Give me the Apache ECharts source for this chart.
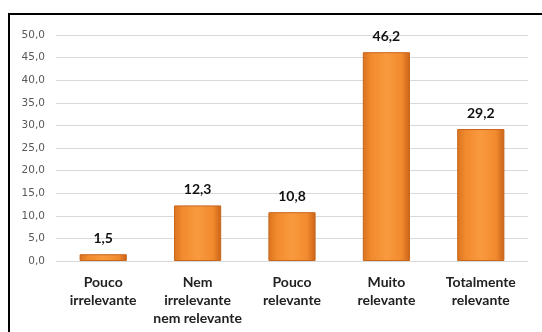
<!DOCTYPE html>
<html>
<head>
<meta charset="utf-8">
<script src="https://cdn.jsdelivr.net/npm/echarts@6/dist/echarts.min.js"></script>
<style>
  html, body { margin: 0; padding: 0; background: #fff; }
  #chart { width: 542px; height: 332px; }
</style>
</head>
<body>
<div id="chart"></div>
<script>
// Categories and percentages
const categories = [
  'Pouco\nirrelevante',
  'Nem\nirrelevante\nnem relevante',
  'Pouco\nrelevante',
  'Muito\nrelevante',
  'Totalmente\nrelevante'
];
const values = [1.5, 12.3, 10.8, 46.2, 29.2];
const yTicks = [0, 5, 10, 15, 20, 25, 30, 35, 40, 45, 50];

const fmt = v => v.toFixed(1).replace('.', ',');

const chart = echarts.init(document.getElementById('chart'), null, { renderer: 'canvas' });

const barFill = new echarts.graphic.LinearGradient(0, 0, 1, 0, [
  { offset: 0, color: '#D9731E' },
  { offset: 0.18, color: '#F28A2E' },
  { offset: 0.5, color: '#F99A3F' },
  { offset: 0.82, color: '#F28A2E' },
  { offset: 1, color: '#C96418' }
]);

chart.setOption({
  animation: false,
  grid: { left: 56, right: 14, top: 35, bottom: 71 },
  graphic: [{
    type: 'rect',
    shape: { x: 9, y: 14, width: 560, height: 340 },
    style: { fill: 'none', stroke: '#000', lineWidth: 2 },
    silent: true
  }],
  xAxis: {
    type: 'category',
    data: categories,
    axisLine: { show: true, lineStyle: { color: '#d9d9d9', width: 1 } },
    axisTick: { show: false },
    axisLabel: {
      interval: 0,
      margin: 12,
      fontFamily: 'Lato',
      fontWeight: 'bold',
      fontSize: 14,
      lineHeight: 18,
      color: '#222'
    }
  },
  yAxis: {
    type: 'value',
    min: yTicks[0],
    max: yTicks[yTicks.length - 1],
    interval: 5,
    axisLine: { show: false },
    axisTick: { show: false },
    splitLine: { lineStyle: { color: '#d9d9d9', width: 1 } },
    axisLabel: {
      formatter: v => fmt(v),
      fontFamily: 'DejaVu Sans',
      fontSize: 10.5,
      color: '#595959',
      margin: 11
    }
  },
  series: [{
    type: 'bar',
    data: values,
    barWidth: '50%',
    itemStyle: {
      color: barFill,
      borderColor: '#C8661C',
      borderWidth: 1
    },
    label: {
      show: true,
      position: 'top',
      distance: 9,
      formatter: p => fmt(p.value),
      fontFamily: 'Lato',
      fontWeight: 'bold',
      fontSize: 14,
      color: '#111'
    }
  }]
});
</script>
</body>
</html>
